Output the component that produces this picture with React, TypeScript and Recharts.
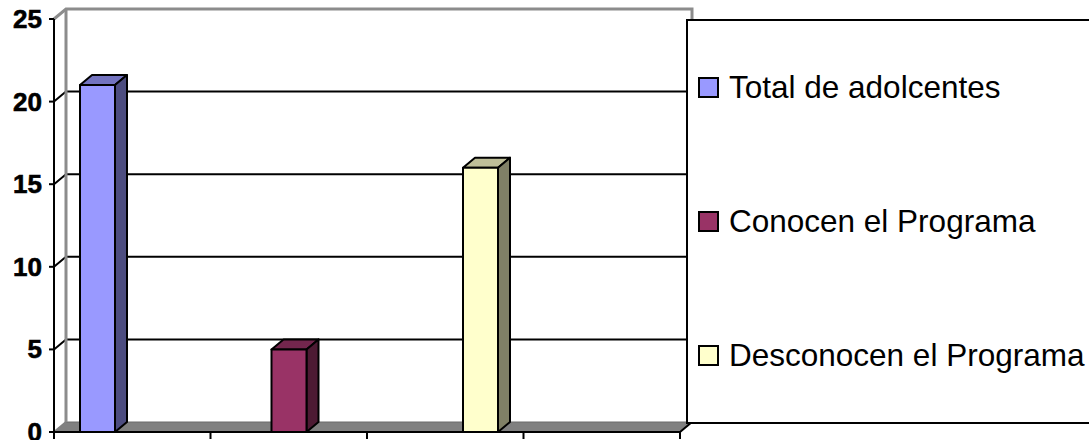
import {
  Bar,
  BarChart,
  CartesianGrid,
  Legend,
  ReferenceArea,
  XAxis,
  YAxis,
} from "recharts";

// Excel-style 3D clustered columns: 4 category slots, one series filled per slot.
const CATEGORIES = ["1", "2", "3", "4"];
const TOTAL = [21, null, null, null];
const CONOCEN = [null, 5, null, null];
const DESCONOCEN = [null, null, 16, null];
const Y_TICKS = [0, 5, 10, 15, 20, 25];

const SERIES = [
  { key: "total", name: "Total de adolcentes", front: "#9999ff", side: "#4d4d80", top: "#7373bf" },
  { key: "conocen", name: "Conocen el Programa", front: "#993366", side: "#4d1a33", top: "#73264d" },
  { key: "desconocen", name: "Desconocen el Programa", front: "#ffffcc", side: "#808066", top: "#bfbf99" },
];

const data = CATEGORIES.map((cat, i) => ({
  cat,
  total: TOTAL[i],
  conocen: CONOCEN[i],
  desconocen: DESCONOCEN[i],
}));

const FONT = '"Liberation Sans", Arial, sans-serif';
const DX = 12; // depth offset of the back wall
const DY = 10;

function Bar3D(props: any) {
  const { x, y, width, height, colors } = props;
  if (!height || height <= 0) return <g />;
  const r = x + width;
  const b = y + height;
  return (
    <g stroke="#000" strokeWidth={2} strokeLinejoin="round">
      <polygon
        points={`${x},${y} ${x + DX},${y - DY} ${r + DX},${y - DY} ${r},${y}`}
        fill={colors.top}
      />
      <polygon
        points={`${r},${y} ${r + DX},${y - DY} ${r + DX},${b - DY} ${r},${b}`}
        fill={colors.side}
      />
      <rect x={x} y={y} width={width} height={height} fill={colors.front} />
    </g>
  );
}

function Frame3D(props: any) {
  const { x, y, width, height } = props;
  const r = x + width;
  const b = y + height;
  return (
    <g>
      <polygon
        points={`${x},${b} ${r},${b} ${r + DX},${b - DY} ${x + DX},${b - DY}`}
        fill="#808080"
        stroke="#6a6a6a"
        strokeWidth={1}
      />
      <line x1={r} y1={b} x2={r + DX} y2={b - DY} stroke="#000" strokeWidth={2} />
      <polyline
        points={`${x},${y} ${x + DX},${y - DY} ${r + DX},${y - DY} ${r + DX},${b - DY}`}
        fill="none"
        stroke="#8c8c8c"
        strokeWidth={3}
      />
      <line x1={x + DX} y1={y - DY} x2={x + DX} y2={b - DY} stroke="#8c8c8c" strokeWidth={3} />
      <line x1={x} y1={b} x2={x + DX} y2={b - DY} stroke="#808080" strokeWidth={2} />
    </g>
  );
}

function gridLine(p: any) {
  const { x1, x2, y1, index } = p;
  const top = p.y;
  const bottom = p.y + p.height;
  if (Math.abs(y1 - top) < 0.5 || Math.abs(y1 - bottom) < 0.5) return <g key={`g${index}`} />;
  return (
    <g key={`g${index}`} stroke="#000" strokeWidth={2}>
      <line x1={x1} y1={y1} x2={x1 + DX} y2={y1 - DY} />
      <line x1={x1 + DX} y1={y1 - DY} x2={x2 + DX} y2={y1 - DY} />
    </g>
  );
}

// category boundary tick marks below the x axis line (Excel puts them between slots)
function edgeCoords({ xAxis, offset }: any) {
  const scale = xAxis?.scale;
  let map: ((v: string) => number) | null = null;
  if (typeof scale === "function") map = (v) => scale(v);
  else if (scale && typeof scale.map === "function") map = (v) => scale.map(v);
  const bw = scale && typeof scale.bandwidth === "function" ? scale.bandwidth() : NaN;
  if (map && Number.isFinite(bw)) {
    const starts = CATEGORIES.map((c) => map!(c));
    if (starts.every((s) => Number.isFinite(s))) return [...starts, starts[starts.length - 1] + bw];
  }
  const left = offset?.left ?? 54;
  const w = offset?.width ?? 626;
  return [...CATEGORIES.map((_, i) => left + (i * w) / CATEGORIES.length), left + w];
}

function edgeTick(p: any) {
  const { x1, y2, index } = p;
  return <line key={`t${index}`} x1={x1} y1={y2} x2={x1} y2={y2 + 7} stroke="#000" strokeWidth={2} />;
}

function YTick({ x, y, payload }: any) {
  return (
    <text
      x={x}
      y={y}
      dy={9}
      textAnchor="end"
      fill="#000"
      stroke="#000"
      strokeWidth={0.6}
      fontSize={26}
      fontWeight={700}
      fontFamily={FONT}
    >
      {payload.value}
    </text>
  );
}

function LegendBox({ payload }: any) {
  const items = SERIES.map(
    (s) => (payload ?? []).find((p: any) => p.value === s.name) ?? { value: s.name, color: s.front },
  );
  return (
    <div
      style={{
        boxSizing: "border-box",
        width: 420,
        height: 405,
        border: "2px solid #000",
        background: "#fff",
        display: "flex",
        flexDirection: "column",
        justifyContent: "space-around",
        fontFamily: FONT,
        fontSize: 31.5,
        color: "#000",
      }}
    >
      {items.map((p: any) => (
        <div key={p.value} style={{ display: "flex", alignItems: "center" }}>
          <span
            style={{
              display: "inline-block",
              boxSizing: "border-box",
              width: 21,
              height: 21,
              border: "2px solid #000",
              background: p.color,
              marginLeft: 10,
              marginRight: 10,
            }}
          />
          <span>{p.value}</span>
        </div>
      ))}
    </div>
  );
}

export default function App() {
  return (
    <div style={{ width: 1089, height: 440, overflow: "hidden", background: "#fff" }}>
      <style>{`body{margin:0}`}</style>
      <BarChart
        width={1089}
        height={440}
        data={data}
        margin={{ top: 19, right: 409, left: 0, bottom: 0 }}
        barSize={35}
        barGap={0}
      >
        <CartesianGrid
          horizontal={gridLine}
          vertical={edgeTick}
          verticalCoordinatesGenerator={edgeCoords}
          syncWithTicks={false}
        />
        <ReferenceArea y1={0} y2={25} shape={<Frame3D />} />
        <XAxis
          dataKey="cat"
          height={8}
          tick={false}
          tickLine={false}
          axisLine={{ stroke: "#000", strokeWidth: 2 }}
        />
        <YAxis
          width={54}
          domain={[0, 25]}
          ticks={Y_TICKS}
          interval={0}
          tickSize={5}
          tickMargin={7}
          axisLine={{ stroke: "#000", strokeWidth: 2 }}
          tickLine={{ stroke: "#000", strokeWidth: 2 }}
          tick={<YTick />}
        />
        <Legend
          layout="vertical"
          align="center"
          verticalAlign="middle"
          wrapperStyle={{ left: 686, top: 19, width: 420 }}
          content={<LegendBox />}
        />
        {SERIES.map((s) => (
          <Bar
            key={s.key}
            dataKey={s.key}
            name={s.name}
            fill={s.front}
            isAnimationActive={false}
            shape={(p: any) => <Bar3D {...p} colors={s} />}
          />
        ))}
      </BarChart>
    </div>
  );
}
